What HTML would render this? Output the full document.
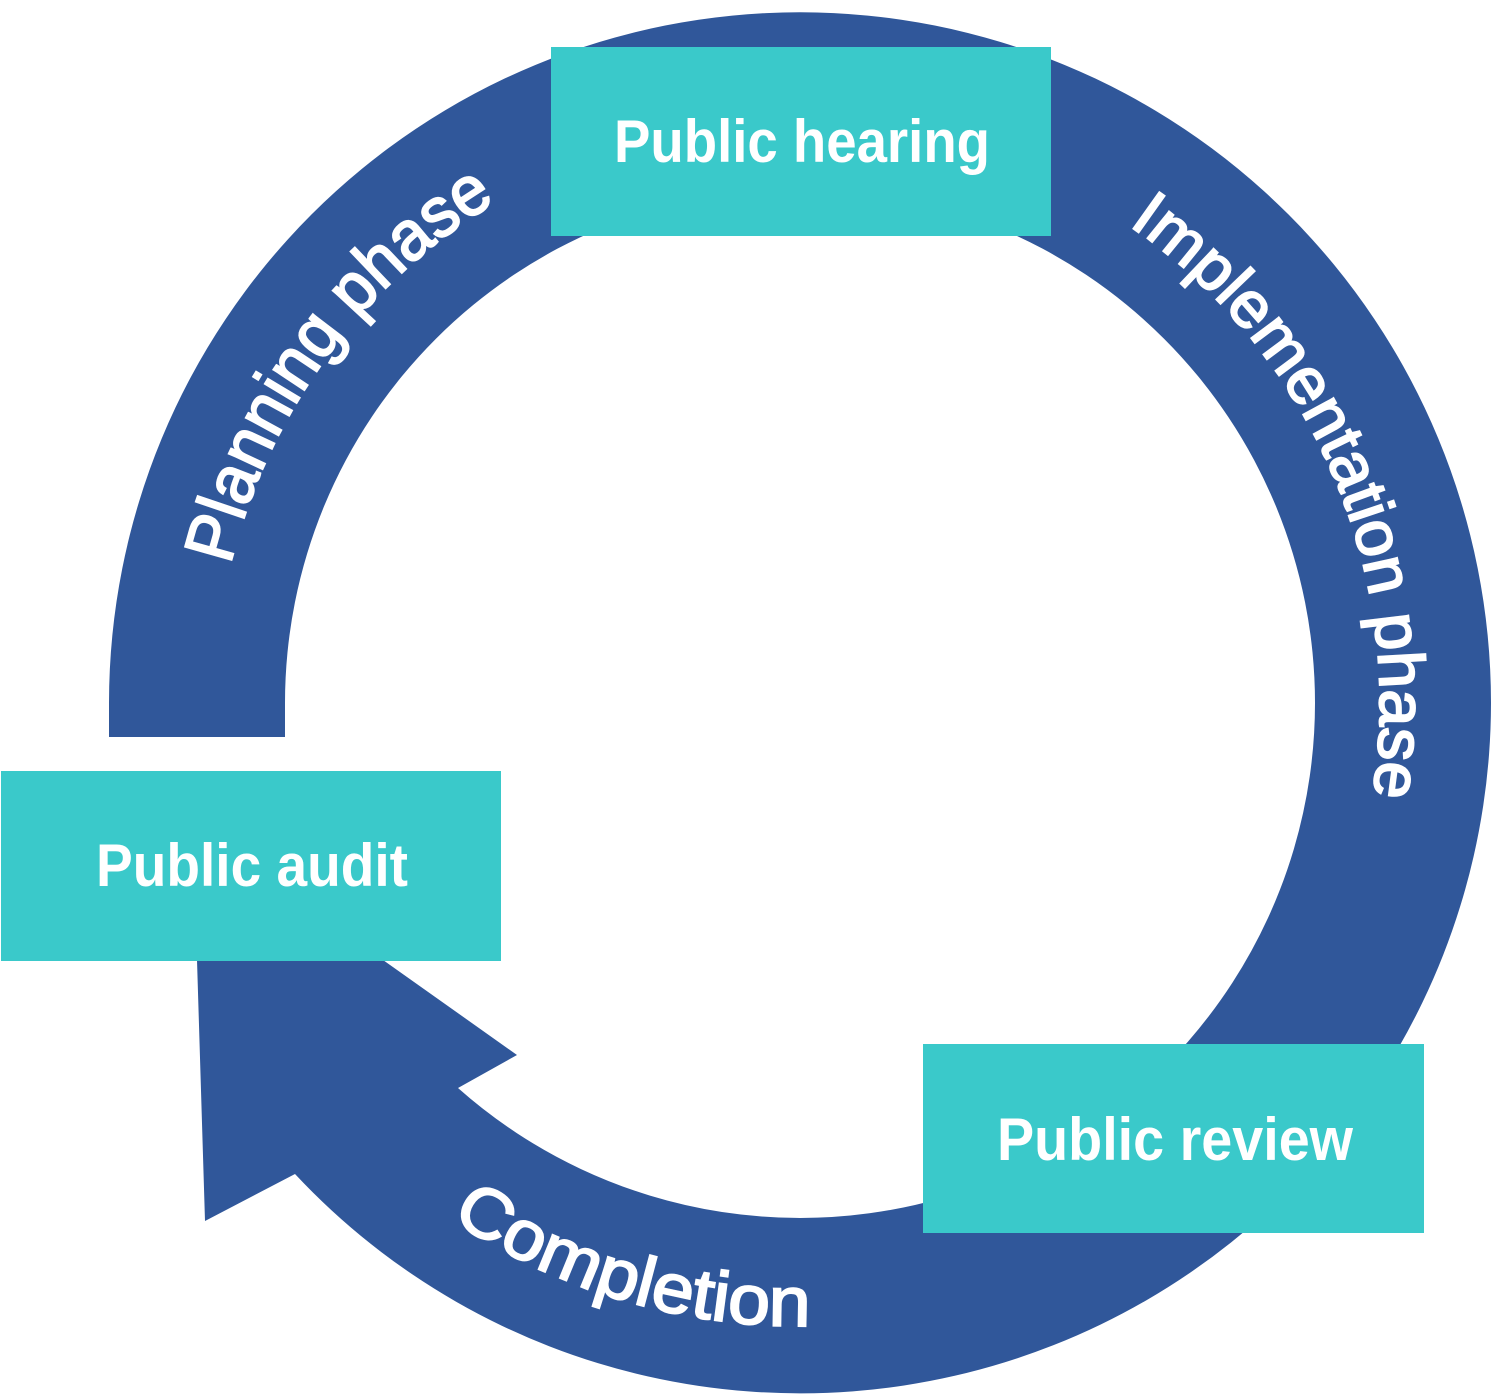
<!DOCTYPE html>
<html><head><meta charset="utf-8"><style>
html,body{margin:0;padding:0;background:#fff;width:1498px;height:1397px;overflow:hidden}
svg{display:block}
text{font-family:"Liberation Sans",sans-serif;font-weight:700;fill:#fff;font-size:60px}
text.arc{font-weight:400;stroke:#fff;stroke-width:2px}
</style></head><body>
<svg width="1498" height="1397" viewBox="0 0 1498 1397" xmlns="http://www.w3.org/2000/svg">
<defs>
<path id="p1" d="M230.4 565.2 A586 586 0 0 1 599.6 152.3"/>
<path id="p2" d="M1128.5 225.2 A580 580 0 0 1 1345 901.4"/>
<path id="p3" d="M450.7 1218.9 A623 623 0 0 0 854.3 1323.6"/>
</defs>
<path fill="#30579A" d="M109 737 L285 737 L285 703 A515 515 0 0 1 1315 703 A515 515 0 0 1 458 1088 L517 1055 L383 960 L197 960 L205 1221 L295 1174 A691 691 0 0 0 1491 703 A691 691 0 0 0 109 703 Z"/>
<rect x="551" y="47" width="500" height="189" fill="#3AC9CA"/>
<rect x="1" y="771" width="500" height="190" fill="#3AC9CA"/>
<rect x="923" y="1044" width="501" height="189" fill="#3AC9CA"/>
<text x="614" y="162" textLength="376" lengthAdjust="spacingAndGlyphs">Public hearing</text>
<text x="96" y="886" textLength="312" lengthAdjust="spacingAndGlyphs">Public audit</text>
<text x="997" y="1160" textLength="356" lengthAdjust="spacingAndGlyphs">Public review</text>
<text class="arc" style="font-size:70px" textLength="462" lengthAdjust="spacingAndGlyphs"><textPath href="#p1">Planning phase</textPath></text>
<text class="arc" style="font-size:65px" textLength="655" lengthAdjust="spacingAndGlyphs"><textPath href="#p2">Implementation phase</textPath></text>
<text class="arc" style="font-size:70px" textLength="381" lengthAdjust="spacingAndGlyphs"><textPath href="#p3">Completion</textPath></text>
</svg>
</body></html>
